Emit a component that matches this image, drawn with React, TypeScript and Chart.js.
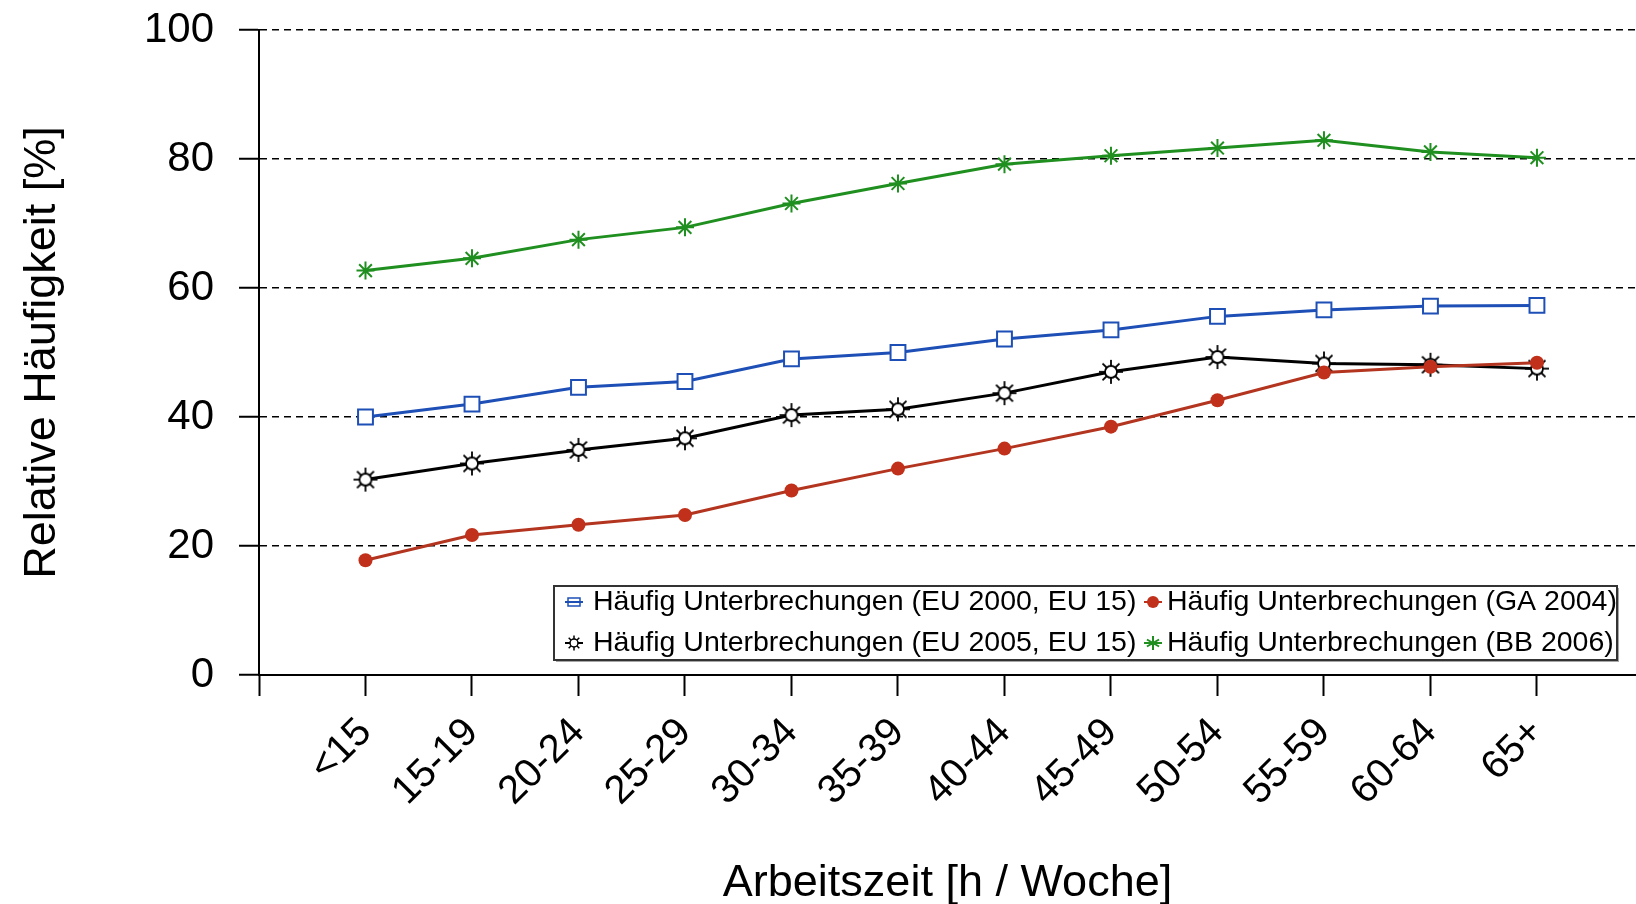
import React, { useEffect, useRef } from 'react';
import { Chart, registerables } from 'chart.js';

Chart.register(...registerables);

const categories = ['<15', '15-19', '20-24', '25-29', '30-34', '35-39', '40-44', '45-49', '50-54', '55-59', '60-64', '65+'];

const nameEU2000 = 'Häufig Unterbrechungen (EU 2000, EU 15)';
const nameGA2004 = 'Häufig Unterbrechungen (GA 2004)';
const nameEU2005 = 'Häufig Unterbrechungen (EU 2005, EU 15)';
const nameBB2006 = 'Häufig Unterbrechungen (BB 2006)';

const eu2000 = [40.0, 42.0, 44.6, 45.5, 49.0, 50.0, 52.1, 53.5, 55.6, 56.6, 57.2, 57.3];
const ga2004 = [17.8, 21.7, 23.3, 24.8, 28.6, 32.0, 35.1, 38.5, 42.6, 46.9, 47.8, 48.4];
const eu2005 = [30.3, 32.8, 34.9, 36.7, 40.3, 41.2, 43.7, 47.0, 49.3, 48.3, 48.1, 47.5];
const bb2006 = [62.7, 64.6, 67.5, 69.4, 73.1, 76.2, 79.2, 80.5, 81.7, 82.9, 81.1, 80.2];

const yTicks = [0, 20, 40, 60, 80, 100];

const xTitle = 'Arbeitszeit [h / Woche]';
const yTitle = 'Relative Häufigkeit [%]';

const FONT = '"Liberation Sans", Arial, sans-serif';
const BLUE = '#1d4fb6';
const RED = '#c0301a';
const RED_LINE = '#b3341f';
const BLACK = '#000000';
const GREEN = '#1f8f1f';

function makeSun(size: number, r: number, ray: number, lw: number) {
  const c = document.createElement('canvas');
  c.width = size;
  c.height = size;
  const ctx = c.getContext('2d')!;
  const m = size / 2;
  ctx.strokeStyle = '#000';
  ctx.lineWidth = lw;
  for (let k = 0; k < 8; k++) {
    const a = (k * Math.PI) / 4;
    ctx.beginPath();
    ctx.moveTo(m + Math.cos(a) * r, m + Math.sin(a) * r);
    ctx.lineTo(m + Math.cos(a) * (r + ray), m + Math.sin(a) * (r + ray));
    ctx.stroke();
  }
  ctx.beginPath();
  ctx.arc(m, m, r, 0, Math.PI * 2);
  ctx.fillStyle = '#fff';
  ctx.fill();
  ctx.stroke();
  return c;
}

const toPoints = (arr: number[]) => arr.map((v, i) => ({ x: i, y: v }));

const legendPlugin = {
  id: 'boxLegend',
  afterDraw(chart: any) {
    const ctx: CanvasRenderingContext2D = chart.ctx;
    const bx = 554, by = 586, bw = 1063, bh = 74;
    ctx.save();
    ctx.fillStyle = 'rgba(0,0,0,0.35)';
    ctx.fillRect(bx + 2, by + 2, bw, bh);
    ctx.fillStyle = '#fff';
    ctx.fillRect(bx, by, bw, bh);
    ctx.strokeStyle = '#333';
    ctx.lineWidth = 2;
    ctx.strokeRect(bx, by, bw, bh);

    const smallSun = makeSun(18, 4, 3.5, 1.5);
    const items = [
      { name: nameEU2000, mx: 574, tx: 593, y: 602, kind: 'rect', color: BLUE },
      { name: nameGA2004, mx: 1153, tx: 1167, y: 602, kind: 'circle', color: RED },
      { name: nameEU2005, mx: 574, tx: 593, y: 643, kind: 'sun', color: BLACK },
      { name: nameBB2006, mx: 1153, tx: 1167, y: 643, kind: 'star', color: GREEN },
    ];
    for (const it of items) {
      ctx.strokeStyle = it.color;
      ctx.lineWidth = 2;
      ctx.beginPath();
      ctx.moveTo(it.mx - 9, it.y);
      ctx.lineTo(it.mx + 9, it.y);
      ctx.stroke();
      if (it.kind === 'rect') {
        ctx.lineWidth = 1.5;
        ctx.strokeRect(it.mx - 6, it.y - 4, 12, 8);
      } else if (it.kind === 'circle') {
        ctx.fillStyle = it.color;
        ctx.beginPath();
        ctx.arc(it.mx, it.y, 6, 0, Math.PI * 2);
        ctx.fill();
      } else if (it.kind === 'sun') {
        ctx.drawImage(smallSun, it.mx - 9, it.y - 9);
      } else {
        ctx.lineWidth = 2;
        const r = 7;
        ctx.beginPath();
        for (let k = 0; k < 6; k++) {
          const a = (k * Math.PI) / 3 + Math.PI / 2;
          ctx.moveTo(it.mx, it.y);
          ctx.lineTo(it.mx + Math.cos(a) * r, it.y + Math.sin(a) * r);
        }
        ctx.stroke();
      }
      ctx.fillStyle = '#000';
      ctx.font = `28.5px ${FONT}`;
      ctx.textBaseline = 'middle';
      ctx.textAlign = 'left';
      ctx.fillText(it.name, it.tx, it.y);
    }
    ctx.restore();
  },
};

export default function App() {
  const ref = useRef<HTMLCanvasElement | null>(null);

  useEffect(() => {
    if (!ref.current) return;
    const sun = makeSun(28, 6, 6, 1.8);
    const chart = new Chart(ref.current, {
      type: 'line',
      data: {
        datasets: [
          {
            label: nameEU2000,
            data: toPoints(eu2000),
            borderColor: BLUE,
            borderWidth: 3,
            pointStyle: 'rect',
            pointRadius: 10.5,
            pointBorderWidth: 2,
            pointBorderColor: BLUE,
            pointBackgroundColor: '#fff',
            tension: 0,
          },
          {
            label: nameGA2004,
            data: toPoints(ga2004),
            borderColor: RED_LINE,
            borderWidth: 3,
            pointStyle: 'circle',
            pointRadius: 7,
            pointBorderWidth: 0,
            pointBackgroundColor: RED,
            pointBorderColor: RED,
            tension: 0,
          },
          {
            label: nameEU2005,
            data: toPoints(eu2005),
            borderColor: BLACK,
            borderWidth: 3,
            pointStyle: sun as any,
            pointRadius: 10,
            tension: 0,
          },
          {
            label: nameBB2006,
            data: toPoints(bb2006),
            borderColor: GREEN,
            borderWidth: 3,
            pointStyle: 'star',
            pointRadius: 9,
            pointBorderWidth: 2,
            pointBorderColor: GREEN,
            pointBackgroundColor: GREEN,
            tension: 0,
          },
        ],
      },
      options: {
        animation: false,
        responsive: false,
        maintainAspectRatio: false,
        layout: { padding: 0, autoPadding: false },
        plugins: { legend: { display: false }, tooltip: { enabled: false } },
        scales: {
          x: {
            type: 'linear',
            min: -1,
            max: 11.93,
            afterFit: (s: any) => {
              s.height = 229;
              s.paddingLeft = 0;
              s.paddingRight = 0;
            },
            ticks: {
              stepSize: 1,
              autoSkip: false,
              includeBounds: false,
              maxRotation: 45,
              minRotation: 45,
              padding: 13,
              color: '#000',
              font: { family: FONT, size: 40 },
              callback: (v: any) => categories[Math.round(Number(v))] ?? '',
            },
            grid: {
              drawOnChartArea: false,
              drawTicks: true,
              tickLength: 21,
              tickColor: '#000',
              tickWidth: 2,
            },
            border: { color: '#000', width: 2 },
            title: {
              display: true,
              text: xTitle,
              color: '#000',
              font: { family: FONT, size: 45, lineHeight: 0.9 },
              padding: { top: 0, bottom: 0 },
            },
          },
          y: {
            min: 0,
            max: 100,
            afterFit: (s: any) => {
              s.width = 259;
              s.paddingTop = 30;
              s.paddingBottom = 0;
            },
            afterBuildTicks: (s: any) => {
              s.ticks = yTicks.map((v) => ({ value: v }));
            },
            ticks: {
              stepSize: 20,
              padding: 25,
              color: '#000',
              font: { family: FONT, size: 42 },
            },
            grid: {
              color: '#000',
              lineWidth: 1.5,
              tickLength: 20,
              tickColor: '#000',
              tickWidth: 2,
              tickBorderDash: [],
            },
            border: { color: '#000', width: 2, dash: [7, 5] },
            title: {
              display: true,
              text: yTitle,
              color: '#000',
              font: { family: FONT, size: 45, lineHeight: 1 },
              padding: { top: 20, bottom: 0 },
            },
          },
        },
      },
      plugins: [legendPlugin],
    });
    return () => chart.destroy();
  }, []);

  return (
    <div style={{ position: 'absolute', left: 0, top: 0, width: 1636, height: 904 }}>
      <canvas ref={ref} width={1636} height={904} style={{ display: 'block' }} />
    </div>
  );
}
